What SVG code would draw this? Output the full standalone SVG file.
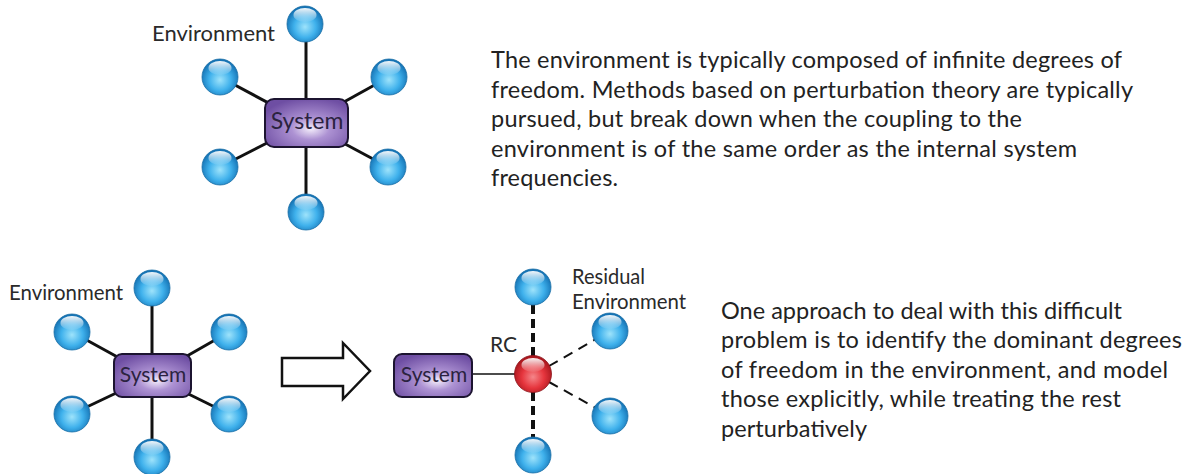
<svg xmlns="http://www.w3.org/2000/svg" width="1189" height="474" viewBox="0 0 1189 474">
<defs>
  <radialGradient id="blue" cx="50%" cy="58%" r="55%">
    <stop offset="0" stop-color="#9ee3fb"/>
    <stop offset="0.55" stop-color="#3fb1ec"/>
    <stop offset="1" stop-color="#1472b4"/>
  </radialGradient>
  <radialGradient id="red" cx="50%" cy="58%" r="55%">
    <stop offset="0" stop-color="#f5868a"/>
    <stop offset="0.55" stop-color="#e6353d"/>
    <stop offset="1" stop-color="#a8161d"/>
  </radialGradient>
  <linearGradient id="shine" x1="0" y1="0" x2="0" y2="1">
    <stop offset="0" stop-color="#ffffff" stop-opacity="0.95"/>
    <stop offset="1" stop-color="#ffffff" stop-opacity="0.05"/>
  </linearGradient>
  <radialGradient id="purple" cx="55%" cy="62%" r="65%">
    <stop offset="0" stop-color="#f4eefb"/>
    <stop offset="0.35" stop-color="#ad92d3"/>
    <stop offset="1" stop-color="#6e4ea3"/>
  </radialGradient>
  <g id="ball">
    <circle r="18" fill="url(#blue)" stroke="#1a6fa6" stroke-width="0.8"/>
    <ellipse cx="0" cy="-9" rx="11.5" ry="7" fill="url(#shine)"/>
  </g>
  <g id="redball">
    <circle r="18.5" fill="url(#red)" stroke="#8c1218" stroke-width="0.8"/>
    <ellipse cx="0" cy="-9" rx="11.5" ry="7" fill="url(#shine)"/>
  </g>
</defs>
<style>
  .ln{stroke:#111;stroke-width:3;fill:none}
  .thin{stroke:#111;stroke-width:1.6;fill:none}
  .dv{stroke:#111;stroke-width:4;stroke-dasharray:9 5;fill:none}
  .dd{stroke:#111;stroke-width:2;stroke-dasharray:10 7;fill:none}
  .box{fill:url(#purple);stroke:#1c1430;stroke-width:2}
  .lbl{font-family:Lato,"Liberation Sans",sans-serif;fill:#2a2a2a}
  .sys{font-family:Lato,"Liberation Sans",sans-serif;fill:#2b2340;text-anchor:middle}
  .para{font-family:Lato,"Liberation Sans",sans-serif;font-size:23.5px;fill:#222}
</style>

<g id="connectors">
  <line class="ln" x1="306" y1="25" x2="306" y2="123"/>
  <line class="ln" x1="306" y1="123" x2="306" y2="212"/>
  <line class="ln" x1="220" y1="77" x2="306" y2="123"/>
  <line class="ln" x1="389" y1="77" x2="306" y2="123"/>
  <line class="ln" x1="220" y1="167" x2="306" y2="123"/>
  <line class="ln" x1="388" y1="167" x2="306" y2="123"/>

  <line class="ln" x1="152" y1="288" x2="152" y2="376"/>
  <line class="ln" x1="152" y1="376" x2="152" y2="457"/>
  <line class="ln" x1="72" y1="332" x2="152" y2="376"/>
  <line class="ln" x1="229" y1="332" x2="152" y2="376"/>
  <line class="ln" x1="72" y1="414" x2="152" y2="376"/>
  <line class="ln" x1="229" y1="414" x2="152" y2="376"/>

  <line class="thin" x1="472" y1="374" x2="533" y2="374"/>
  <line class="dv" x1="533" y1="305" x2="533" y2="357"/>
  <line class="dv" x1="533" y1="392" x2="533" y2="438"/>
  <line class="dd" x1="549" y1="366" x2="596" y2="339"/>
  <line class="dd" x1="549" y1="382" x2="596" y2="408"/>

  <path d="M282,358 H343 V343 L370,371 L343,399 V386 H282 Z" fill="#fff" stroke="#111" stroke-width="2.5" stroke-linejoin="miter"/>
</g>

<g id="top-system">
  <rect class="box" x="265" y="99" width="83" height="48" rx="9"/>
  <text class="sys" x="307" y="129" font-size="23">System</text>
</g>
<g id="top-env-1"><use href="#ball" x="305" y="24"/></g>
<g id="top-env-2"><use href="#ball" x="220" y="77"/></g>
<g id="top-env-3"><use href="#ball" x="389" y="77"/></g>
<g id="top-env-4"><use href="#ball" x="220" y="167"/></g>
<g id="top-env-5"><use href="#ball" x="388" y="167"/></g>
<g id="top-env-6"><use href="#ball" x="306" y="212"/></g>
<g id="top-env-label"><text class="lbl" x="152" y="41" font-size="21.5" textLength="123" lengthAdjust="spacingAndGlyphs">Environment</text></g>

<g id="bl-system">
  <rect class="box" x="114" y="354" width="77" height="43" rx="8"/>
  <text class="sys" x="153" y="382" font-size="21">System</text>
</g>
<g id="bl-env-1"><use href="#ball" x="152" y="288"/></g>
<g id="bl-env-2"><use href="#ball" x="72" y="332"/></g>
<g id="bl-env-3"><use href="#ball" x="229" y="332"/></g>
<g id="bl-env-4"><use href="#ball" x="72" y="414"/></g>
<g id="bl-env-5"><use href="#ball" x="229" y="414"/></g>
<g id="bl-env-6"><use href="#ball" x="152" y="457"/></g>
<g id="bl-env-label"><text class="lbl" x="9" y="300" font-size="20.5" textLength="114" lengthAdjust="spacingAndGlyphs">Environment</text></g>

<g id="br-system">
  <rect class="box" x="394" y="354" width="78" height="43" rx="8"/>
  <text class="sys" x="434" y="382" font-size="21">System</text>
</g>
<g id="br-rc">
  <use href="#redball" x="533" y="374"/>
  <text class="lbl" x="490" y="352" font-size="21">RC</text>
</g>
<g id="br-env-1"><use href="#ball" x="533" y="287"/></g>
<g id="br-env-2"><use href="#ball" x="610" y="331"/></g>
<g id="br-env-3"><use href="#ball" x="610" y="416"/></g>
<g id="br-env-4"><use href="#ball" x="533" y="455"/></g>
<g id="br-env-label">
  <text class="lbl" x="572" y="284" font-size="20.5" textLength="73" lengthAdjust="spacingAndGlyphs">Residual</text>
  <text class="lbl" x="572" y="309" font-size="20.5" textLength="114" lengthAdjust="spacingAndGlyphs">Environment</text>
</g>

<g id="text-top">
  <text class="para" x="491" y="68" textLength="631">The environment is typically composed of infinite degrees of</text>
  <text class="para" x="491" y="98" textLength="642">freedom. Methods based on perturbation theory are typically</text>
  <text class="para" x="491" y="127" textLength="531">pursued, but break down when the coupling to the</text>
  <text class="para" x="491" y="157" textLength="586">environment is of the same order as the internal system</text>
  <text class="para" x="491" y="186" textLength="127">frequencies.</text>
</g>
<g id="text-bottom">
  <text class="para" x="721" y="319" textLength="401">One approach to deal with this difficult</text>
  <text class="para" x="721" y="348" textLength="461">problem is to identify the dominant degrees</text>
  <text class="para" x="721" y="378" textLength="447">of freedom in the environment, and model</text>
  <text class="para" x="721" y="407" textLength="400">those explicitly, while treating the rest</text>
  <text class="para" x="721" y="437" textLength="146">perturbatively</text>
</g>
</svg>
